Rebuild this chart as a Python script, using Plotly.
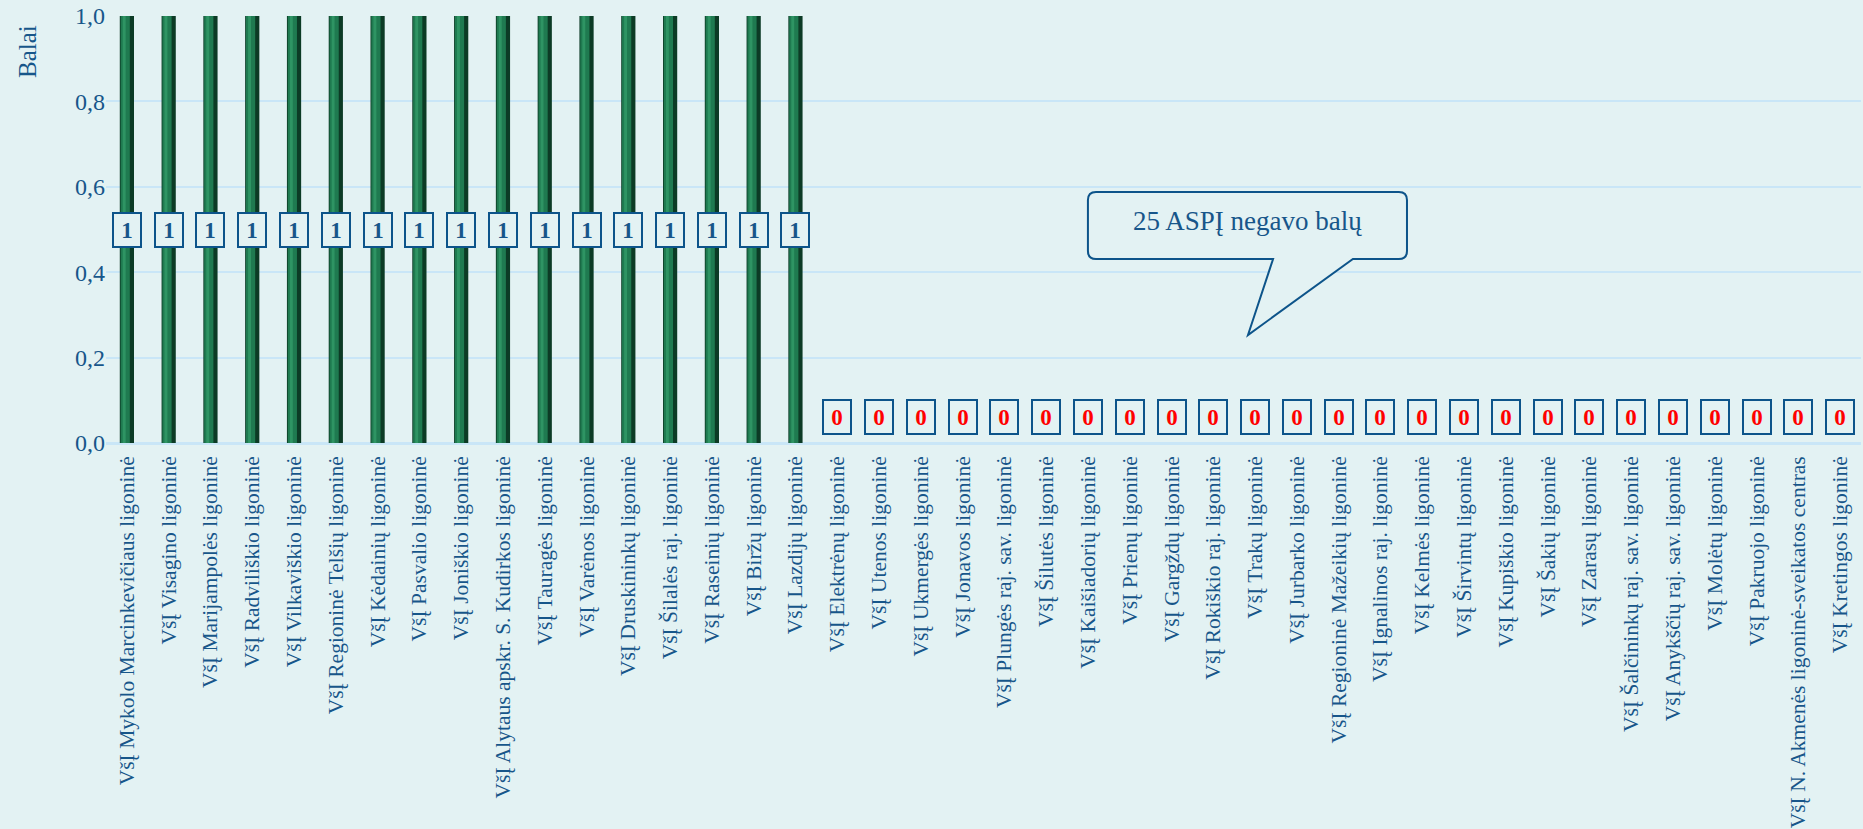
import plotly.graph_objects as go

categories = [
    "VšĮ Mykolo Marcinkevičiaus ligoninė",
    "VšĮ Visagino ligoninė",
    "VšĮ Marijampolės ligoninė",
    "VšĮ Radviliškio ligoninė",
    "VšĮ Vilkaviškio ligoninė",
    "VšĮ Regioninė Telšių ligoninė",
    "VšĮ Kėdainių ligoninė",
    "VšĮ Pasvalio ligoninė",
    "VšĮ Joniškio ligoninė",
    "VšĮ Alytaus apskr. S. Kudirkos ligoninė",
    "VšĮ Tauragės ligoninė",
    "VšĮ Varėnos ligoninė",
    "VšĮ Druskininkų ligoninė",
    "VšĮ Šilalės raj. ligoninė",
    "VšĮ Raseinių ligoninė",
    "VšĮ Biržų ligoninė",
    "VšĮ Lazdijų ligoninė",
    "VšĮ Elektrėnų ligoninė",
    "VšĮ Utenos ligoninė",
    "VšĮ Ukmergės ligoninė",
    "VšĮ Jonavos ligoninė",
    "VšĮ Plungės raj. sav. ligoninė",
    "VšĮ Šilutės ligoninė",
    "VšĮ Kaišiadorių ligoninė",
    "VšĮ Prienų ligoninė",
    "VšĮ Gargždų ligoninė",
    "VšĮ Rokiškio raj. ligoninė",
    "VšĮ Trakų ligoninė",
    "VšĮ Jurbarko ligoninė",
    "VšĮ Regioninė Mažeikių ligoninė",
    "VšĮ Ignalinos raj. ligoninė",
    "VšĮ Kelmės ligoninė",
    "VšĮ Širvintų ligoninė",
    "VšĮ Kupiškio ligoninė",
    "VšĮ Šakių ligoninė",
    "VšĮ Zarasų ligoninė",
    "VšĮ Šalčininkų raj. sav. ligoninė",
    "VšĮ Anykščių raj. sav. ligoninė",
    "VšĮ Molėtų ligoninė",
    "VšĮ Pakruojo ligoninė",
    "VšĮ N. Akmenės ligoninė-sveikatos centras",
    "VšĮ Kretingos ligoninė",
]
scores = [1] * 17 + [0] * 25
callout_text = "25 ASPĮ negavo balų"
y_title = "Balai"

BG = "#e3f2f3"
TXT = "#17568a"
BORDER = "#0d548a"
FONT = "Liberation Serif, Times New Roman, serif"

fig = go.Figure()

# fake the cylinder shading with three overlaid bars
for width, offset, color in [
    (0.34, -0.17, "#0c3b25"),
    (0.22, -0.15, "#1f7a50"),
    (0.07, -0.10, "#2e9463"),
]:
    fig.add_trace(
        go.Bar(
            x=categories,
            y=scores,
            width=width,
            offset=offset,
            marker_color=color,
            marker_line_width=0,
            hoverinfo="skip",
            showlegend=False,
        )
    )

# boxed value labels
for cat, val in zip(categories, scores):
    fig.add_annotation(
        x=cat,
        y=0.5 if val else 0.06,
        text=f"<b>{val}</b>",
        showarrow=False,
        font=dict(family=FONT, size=23, color=TXT if val else "#ff0000"),
        bordercolor=BORDER,
        borderwidth=2,
        borderpad=1,
        bgcolor=BG,
        width=24,
        height=30,
    )

# speech bubble callout (paper coords)
x0, x1 = 0.5595, 0.7413
y0, y1 = 0.4309, 0.5878
rx, ry = 0.0046, 0.019
tip = (0.6507, 0.2529)
b0, b1 = 0.665, 0.7105
path = (
    f"M {x0 + rx},{y1} L {x1 - rx},{y1} Q {x1},{y1} {x1},{y1 - ry} "
    f"L {x1},{y0 + ry} Q {x1},{y0} {x1 - rx},{y0} "
    f"L {b1},{y0} L {tip[0]},{tip[1]} L {b0},{y0} "
    f"L {x0 + rx},{y0} Q {x0},{y0} {x0},{y0 + ry} "
    f"L {x0},{y1 - ry} Q {x0},{y1} {x0 + rx},{y1} Z"
)
fig.add_shape(
    type="path", path=path, xref="paper", yref="paper",
    line=dict(color=BORDER, width=2), fillcolor=BG,
)
fig.add_annotation(
    x=(x0 + x1) / 2, y=(y0 + y1) / 2 + 0.01, xref="paper", yref="paper",
    text=callout_text, showarrow=False,
    font=dict(family=FONT, size=27, color=TXT),
)

# axis title sits up near the top in the original
fig.add_annotation(
    x=(28 - 106) / 1755, y=(443 - 52) / 427, xref="paper", yref="paper",
    xanchor="center", yanchor="middle",
    text=y_title, showarrow=False,
    textangle=-90, font=dict(family=FONT, size=25, color=TXT),
)

fig.update_layout(
    width=1863,
    height=829,
    margin=dict(l=106, r=2, t=16, b=386),
    paper_bgcolor=BG,
    plot_bgcolor=BG,
    barmode="overlay",
    separators=", ",
    font=dict(family=FONT, color=TXT),
)
fig.update_xaxes(
    tickangle=-90,
    tickfont=dict(family=FONT, size=21.5, color=TXT),
    ticklabelstandoff=8,
    showgrid=False,
    showline=False,
    ticks="",
)
fig.update_yaxes(
    range=[0, 1],
    dtick=0.2,
    tickformat=".1f",
    tickfont=dict(family=FONT, size=24, color=TXT),
    gridcolor="#c9e6f7",
    gridwidth=2,
    zeroline=True,
    zerolinecolor="#c9e6f7",
    zerolinewidth=3,
    ticks="",
)

fig.write_html(
    "out.html",
    config={"displayModeBar": False},
    post_script="document.body.style.margin='0px';",
)
